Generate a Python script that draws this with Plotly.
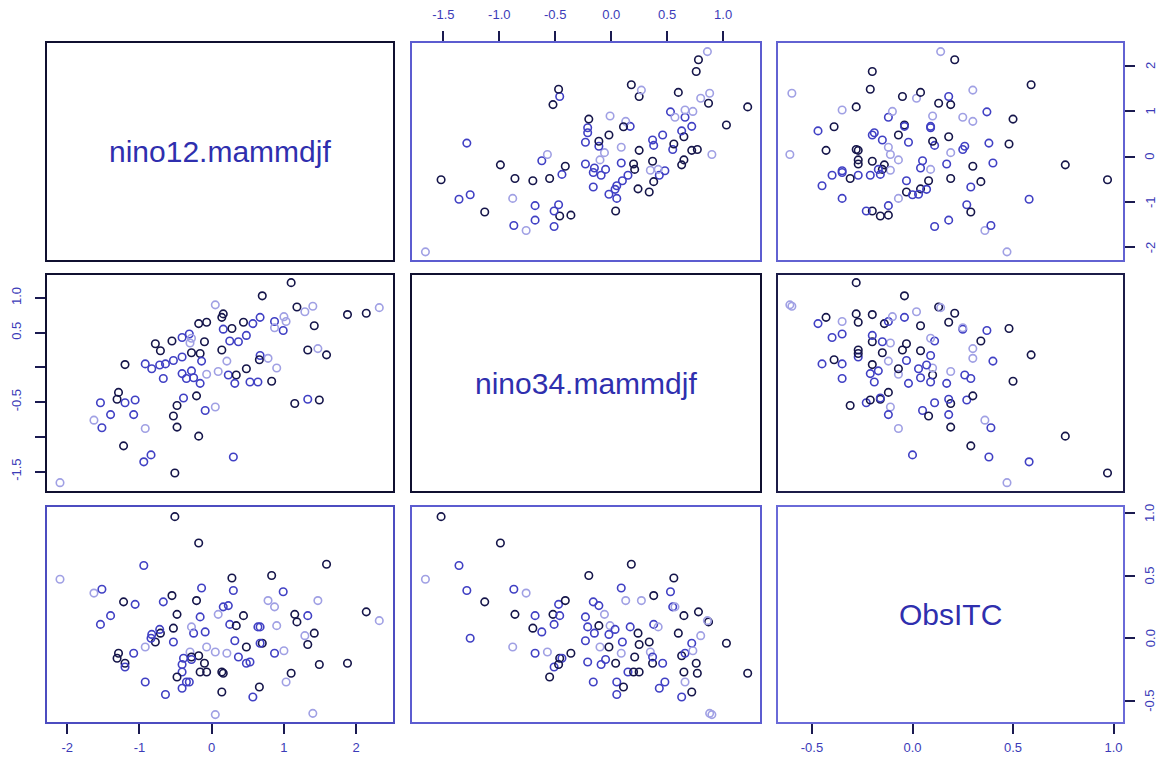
import plotly.graph_objects as go

# ---- data ----
nino12 = [1.10, 0.70, 0.05, 0.16, 0.67, 1.18, 1.29, 1.40, 1.88, 2.14,
          2.32, -0.18, -0.07, 0.14, 0.16, 0.28, 0.44, 0.57, 0.87, 1.00,
          0.99, 0.87, 1.42, -0.41, -0.31, -0.10, -0.30, -0.55, -0.78, -0.71,
          0.25, 0.37, 0.48, -0.64, -0.53, -0.41, -0.28, -0.16, -0.14, 0.14,
          0.21, -0.92, -0.83, -1.20, -0.41, -0.28, -0.07, 0.09, -0.67, -0.35,
          -0.25, -0.16, 0.23, 0.34, 0.48, 0.67, 0.78, 0.90, 0.64, 0.32,
          0.53, 0.83, 1.33, 1.47, 1.59, -1.29, -1.31, -1.20, -1.06, -1.54,
          -0.39, -0.21, -0.48, -0.09, 0.05, 1.15, 1.33, 1.49, -1.40, -1.08,
          -0.53, -1.63, -1.52, -0.92, -0.48, -0.18, -1.22, -0.94, -0.84, -0.51,
          0.30, -2.10, -0.72, 0.66, -0.28, 1.03]

nino34 = [1.22, 1.03, 0.90, 0.77, 0.72, 0.87, 0.80, 0.88, 0.76, 0.78,
          0.86, 0.63, 0.65, 0.72, 0.55, 0.56, 0.65, 0.63, 0.66, 0.73,
          0.53, 0.57, 0.60, 0.43, 0.48, 0.37, 0.35, 0.38, 0.34, 0.24,
          0.38, 0.37, 0.46, 0.05, 0.10, 0.15, 0.21, 0.20, 0.09, 0.25,
          0.09, 0.05, -0.02, 0.04, -0.09, -0.05, -0.10, -0.06, -0.16, -0.16,
          -0.15, -0.23, -0.11, -0.11, -0.02, 0.17, 0.13, -0.01, -0.21, -0.23,
          -0.21, -0.20, 0.25, 0.27, 0.18, -0.36, -0.46, -0.51, -0.47, -0.51,
          -0.44, -0.41, -0.55, -0.62, -0.57, -0.52, -0.46, -0.47, -0.68, -0.68,
          -0.70, -0.76, -0.87, -0.88, -0.86, -0.99, -1.13, -1.36, -1.26, -1.52,
          -1.29, -1.66, 0.035, 0.11, 0.42, 0.66]

obsitc = [-0.28, -0.04, -0.61, -0.28, -0.04, 0.13, 0.02, -0.60, -0.20, 0.21,
          0.14, -0.14, -0.27, -0.43, 0.25, 0.48, 0.18, -0.47, -0.12, -0.10,
          0.37, 0.25, 0.04, -0.40, -0.35, -0.20, -0.11, 0.34, -0.03, 0.04,
          0.11, -0.15, -0.20, -0.45, -0.03, -0.27, -0.15, -0.27, 0.40, -0.27,
          -0.12, -0.35, 0.03, -0.20, -0.21, -0.17, -0.07, 0.19, 0.29, -0.35,
          0.04, 0.17, 0.26, 0.10, -0.07, 0.09, 0.30, 0.10, 0.09, -0.02,
          -0.19, 0.50, -0.05, 0.30, 0.59, -0.12, -0.16, -0.23, 0.27, 0.11,
          -0.16, 0.30, -0.31, 0.05, -0.11, 0.19, 0.18, -0.21, 0.18, -0.12,
          0.08, 0.36, 0.39, -0.07, 0.19, 0.76, 0.29, 0.58, 0.00, 0.97,
          0.38, 0.47, 0.07, -0.39, 0.09, -0.35]

shade = ["D", "D", "L", "D", "B", "D", "L", "L", "D", "D",
         "L", "D", "D", "D", "B", "D", "D", "B", "B", "L",
         "B", "L", "D", "B", "B", "D", "L", "D", "D", "D",
         "B", "B", "B", "B", "B", "B", "D", "D", "B", "D",
         "L", "B", "B", "D", "B", "B", "L", "L", "B", "B",
         "B", "B", "B", "D", "D", "B", "L", "L", "B", "B",
         "B", "D", "D", "L", "D", "D", "D", "B", "B", "B",
         "B", "D", "D", "B", "L", "D", "B", "D", "B", "B",
         "D", "L", "B", "L", "D", "D", "D", "B", "B", "D",
         "B", "L", "B", "D", "L", "L"]

var_names = ["nino12.mammdjf", "nino34.mammdjf", "ObsITC"]
var_data = [nino12, nino34, obsitc]

# tick values / labels per variable
ticks_nino12 = [-2, -1, 0, 1, 2]
ticktext_nino12 = ["-2", "-1", "0", "1", "2"]
ticks_nino34 = [-1.5, -1.0, -0.5, 0.0, 0.5, 1.0]
ticktext_nino34_top = ["-1.5", "-1.0", "-0.5", "0.0", "0.5", "1.0"]
ticktext_nino34_left = ["-1.5", "", "-0.5", "", "0.5", "1.0"]
ticks_obs = [-0.5, 0.0, 0.5, 1.0]
ticktext_obs = ["-0.5", "0.0", "0.5", "1.0"]

# ---- styling / layout ----
W, H = 1161, 763
ranges = [[-2.28, 2.51], [-1.78, 1.33], [-0.669, 1.047]]
col_px = [(47, 393), (412, 760), (778, 1123)]
row_px = [(43, 260), (275, 491), (507, 722)]
shade_col = {"D": "#15154a", "B": "#4040c4", "L": "#a0a0e4"}
border = [["#101030", "#5c5cd0", "#6262d2"],
          ["#101030", "#101030", "#1c1c48"],
          ["#4c4cc0", "#5c5cd0", "#6a6ad8"]]
tick_font = dict(family="Liberation Sans, Arial, sans-serif", size=13, color="#3b3bb8")
right_label_x = 1150 / W

fig = go.Figure()
layout = dict(width=W, height=H, margin=dict(l=0, r=0, t=0, b=0, autoexpand=False),
              paper_bgcolor="white", plot_bgcolor="white", showlegend=False)
annotations = []

for i in range(3):
    for j in range(3):
        k = i * 3 + j + 1
        xa = "xaxis" if k == 1 else f"xaxis{k}"
        ya = "yaxis" if k == 1 else f"yaxis{k}"
        xr = "x" if k == 1 else f"x{k}"
        yr = "y" if k == 1 else f"y{k}"
        x0, x1 = col_px[j]
        y0, y1 = row_px[i]
        lc = border[i][j]
        xax = dict(domain=[x0 / W, x1 / W], anchor=yr, range=ranges[j],
                   showgrid=False, zeroline=False, showline=True, mirror=True,
                   linecolor=lc, linewidth=1.6, showticklabels=False, ticks="",
                   fixedrange=True, automargin=False)
        yax = dict(domain=[1 - y1 / H, 1 - y0 / H], anchor=xr, range=ranges[i],
                   showgrid=False, zeroline=False, showline=True, mirror=True,
                   linecolor=lc, linewidth=1.6, showticklabels=False, ticks="",
                   fixedrange=True, automargin=False)
        tickstyle = dict(ticks="outside", ticklen=10, tickwidth=1.5,
                         tickcolor="#1a1a50", showticklabels=True,
                         tickfont=tick_font)
        # x axes: top for column 2, bottom for columns 1 and 3
        if i == 0 and j == 1:
            xax.update(tickstyle, side="top", tickvals=ticks_nino34,
                       ticktext=ticktext_nino34_top, ticklabelstandoff=7)
        if i == 2 and j == 0:
            xax.update(tickstyle, side="bottom", tickvals=ticks_nino12,
                       ticktext=ticktext_nino12, ticklabelstandoff=3)
        if i == 2 and j == 2:
            xax.update(tickstyle, side="bottom", tickvals=ticks_obs,
                       ticktext=ticktext_obs, ticklabelstandoff=3)
        # y axes: left for row 2, right for rows 1 and 3
        if i == 1 and j == 0:
            yax.update(tickstyle, side="left", tickvals=ticks_nino34,
                       ticktext=ticktext_nino34_left, tickangle=-90,
                       ticklabelstandoff=9)
        if (i == 0 and j == 2) or (i == 2 and j == 2):
            vals = ticks_nino12 if i == 0 else ticks_obs
            texts = ticktext_nino12 if i == 0 else ticktext_obs
            yax.update(tickstyle, side="right", tickvals=vals,
                       showticklabels=False)
            # rotated labels placed on the axis' own scale
            for v, t in zip(vals, texts):
                annotations.append(dict(text=t, xref="paper", yref=yr,
                                        x=right_label_x, y=v, textangle=-90,
                                        showarrow=False, xanchor="center",
                                        yanchor="middle", font=tick_font))
        layout[xa] = xax
        layout[ya] = yax

        if i == j:
            # empty trace so the diagonal panel's axes are drawn
            fig.add_trace(go.Scatter(x=[None], y=[None], mode="markers",
                                     xaxis=xr, yaxis=yr, hoverinfo="skip"))
            annotations.append(dict(text=var_names[i], xref=f"{xr} domain",
                                    yref=f"{yr} domain", x=0.5, y=0.5,
                                    showarrow=False,
                                    font=dict(family="Liberation Sans, Arial, sans-serif",
                                              size=30, color="#2f2fae")))
        else:
            fig.add_trace(go.Scatter(
                x=var_data[j], y=var_data[i], mode="markers",
                xaxis=xr, yaxis=yr, hoverinfo="skip",
                marker=dict(symbol="circle-open", size=7.5,
                            color=[shade_col[s] for s in shade],
                            line=dict(width=1.6))))

layout["annotations"] = annotations
fig.update_layout(**layout)
fig.write_html("out.html", config={"displayModeBar": False})

# remove the default page margin so the figure sits at the window's corner
with open("out.html", "r", encoding="utf-8") as fh:
    html = fh.read()
html = html.replace("<head>", "<head><style>html,body{margin:0;padding:0;overflow:hidden;}</style>", 1)
with open("out.html", "w", encoding="utf-8") as fh:
    fh.write(html)
